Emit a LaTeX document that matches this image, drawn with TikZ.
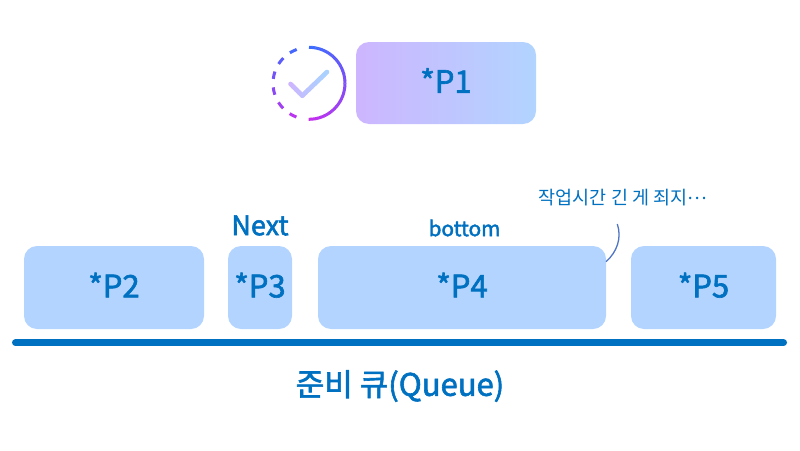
\documentclass[tikz,border=0pt]{standalone}
\usepackage{fontspec}
\setmainfont{Noto Sans CJK KR}
\newfontfamily\medfont[FakeBold=2]{Noto Sans CJK KR}
\usetikzlibrary{calc, positioning}
\definecolor{qblue}{HTML}{0070C0}
\definecolor{qfill}{HTML}{B2D4FF}
\definecolor{qviolet}{HTML}{CDB6FF}
\definecolor{ringtop}{HTML}{3A6CFF}
\definecolor{ringend}{HTML}{C430EE}
\definecolor{tickend}{HTML}{A8D4FF}
\definecolor{tickstart}{HTML}{CDB6FF}
\definecolor{noteline}{HTML}{4F74C4}
\tikzstyle{job}=[rectangle, rounded corners=13pt, fill=qfill, text=qblue, inner sep=0pt, outer sep=0pt, minimum height=83pt, text depth=5pt, font=\fontsize{31}{36}\selectfont\medfont]
\tikzstyle{running}=[job, fill=none, left color=qviolet, right color=qfill]
\tikzstyle{caption}=[text=qblue, inner sep=0pt, outer sep=0pt]

\begin{document}
\begin{tikzpicture}[x=1pt, y=-1pt]
  \useasboundingbox (0,0) rectangle (800,450);
  % running job
  \node[running, minimum width=180pt, minimum height=82pt] (p1) at (446,83) {*P1};
  % ready jobs
  \node[job, minimum width=180pt] (p2) at (114,287.5) {*P2};
  \node[job, minimum width=64pt] (p3) [right=24pt of p2] {*P3};
  \node[job, minimum width=288pt] (p4) [right=26pt of p3] {*P4};
  \node[job, minimum width=145pt] (p5) [right=25pt of p4] {*P5};
  \node[caption, font=\fontsize{27}{30}\selectfont\medfont] (next) at (260,225.5) {Next};
  \node[caption, font=\fontsize{20.8}{24}\selectfont\medfont] (bottom) at (464.5,228) {bottom};
  \node[caption, font=\fontsize{18.5}{22}\selectfont] (note) at (623,198) {작업시간 긴 게 죄지\raisebox{.3em}{…}};
  \node[caption, font=\fontsize{31}{36}\selectfont\medfont] (queue) at (400,386) {준비 큐(Queue)};
  % queue line
  \coordinate (qa) at (15.5,342.7);
  \coordinate (qb) at (783.5,342.7);
  \draw[qblue, line width=7pt, line cap=round] (qa) -- (qb);
  % note curve
  \coordinate (notefoot) at (617.3,224);
  \coordinate (p4edge) at (606,261.7);
  \draw[noteline, line width=1.3pt] (notefoot) .. controls (622,238) and (617,252) .. (p4edge);
  % status ring
  \coordinate (ring) at (309,83.3);
  \foreach \a in {0,...,35} {
    \pgfmathsetmacro{\mixval}{100*\a/35}
    \draw[ringend!\mixval!ringtop, line width=3pt]
      ([shift={(90-5*\a:36pt)}]ring) arc[start angle=90-5*\a, end angle=90-5*\a-5.5, radius=36pt];
  }
  \foreach \a in {0,...,5} {
    \pgfmathsetmacro{\mixval}{100*(\a+0.5)/6}
    \draw[ringend!\mixval!ringtop, line width=3pt]
      ([shift={(110+25.5*\a:36pt)}]ring) arc[start angle=110+25.5*\a, end angle=122+25.5*\a, radius=36pt];
  }
  % check mark
  \coordinate (ca) at (290.5,84);
  \coordinate (cb) at (302.3,95.7);
  \coordinate (cc) at (327,72);
  \foreach \t in {0,...,3} {
    \pgfmathsetmacro{\mixval}{100*\t/12}
    \draw[tickend!\mixval!tickstart, line width=4.6pt, line cap=round]
      ($(ca)!\t/4!(cb)$) -- ($(ca)!\t/4+0.25!(cb)$);
  }
  \foreach \t in {0,...,7} {
    \pgfmathsetmacro{\mixval}{100*(\t+4)/12}
    \draw[tickend!\mixval!tickstart, line width=4.6pt, line cap=round]
      ($(cb)!\t/8!(cc)$) -- ($(cb)!\t/8+0.125!(cc)$);
  }
\end{tikzpicture}
\end{document}
